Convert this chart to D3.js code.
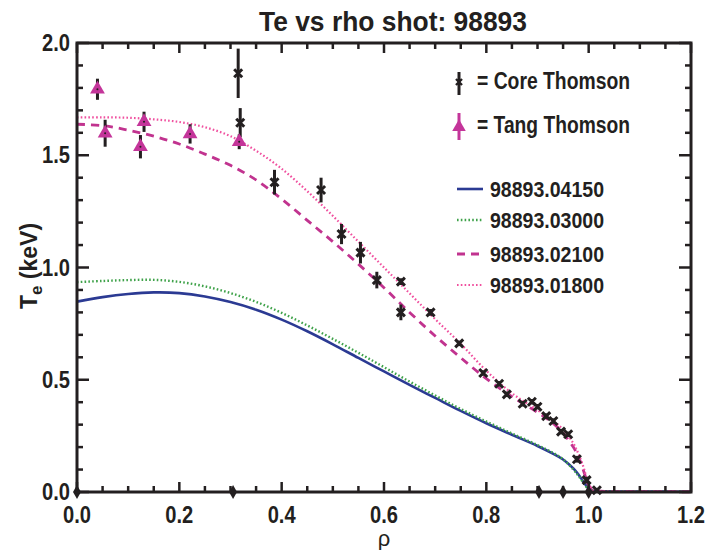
<!DOCTYPE html>
<html>
<head>
<meta charset="utf-8">
<script src="https://cdn.jsdelivr.net/npm/d3@7"></script>
<style>
  html, body { margin: 0; padding: 0; background: #fff; }
  svg { display: block; }
  .bold { font-family: "Liberation Sans", Arial, sans-serif; font-weight: bold; fill: #231f20; }
</style>
</head>
<body>
<svg id="chart" width="710" height="550"></svg>
<script>
// Core Thomson measurements: rho, Te (keV), error (keV)
const coreRho = [0.315, 0.319, 0.386, 0.477, 0.517, 0.554, 0.586, 0.633, 0.633, 0.691, 0.747, 0.794, 0.825, 0.840, 0.871, 0.889, 0.900, 0.917, 0.931, 0.946, 0.960, 0.977, 0.996, 1.016];
const coreTe  = [1.865, 1.645, 1.380, 1.345, 1.149, 1.066, 0.944, 0.937, 0.800, 0.800, 0.662, 0.530, 0.482, 0.435, 0.393, 0.402, 0.380, 0.338, 0.316, 0.269, 0.257, 0.146, 0.053, 0.008];
const coreErr = [0.110, 0.065, 0.055, 0.055, 0.045, 0.048, 0.037, 0.015, 0.035, 0.015, 0.012, 0.012, 0.012, 0.012, 0.012, 0.012, 0.012, 0.012, 0.012, 0.012, 0.012, 0.015, 0.015, 0.010];

// Core Thomson channels with zero signal
const zeroRho = [0.0, 0.305, 0.903, 0.95, 1.0];

// Tangential Thomson measurements
const tangRho = [0.040, 0.055, 0.124, 0.131, 0.221, 0.317];
const tangTe  = [1.794, 1.598, 1.538, 1.649, 1.595, 1.560];
const tangErr = [0.047, 0.060, 0.052, 0.045, 0.043, 0.033];

// Fitted profiles on a common rho grid
const fitRho   = [0, 0.05, 0.1, 0.15, 0.2, 0.25, 0.3, 0.35, 0.4, 0.45, 0.5, 0.55, 0.6, 0.65, 0.7, 0.75, 0.8, 0.85, 0.9, 0.93, 0.95, 0.97, 0.98, 0.99, 1.0, 1.01, 1.03, 1.1, 1.2];
const fit04150 = [0.848, 0.868, 0.882, 0.889, 0.886, 0.871, 0.846, 0.812, 0.768, 0.716, 0.658, 0.597, 0.537, 0.477, 0.419, 0.361, 0.306, 0.255, 0.205, 0.171, 0.145, 0.105, 0.078, 0.045, 0.015, 0.006, 0.003, 0.002, 0.001];
const fit03000 = [0.935, 0.940, 0.944, 0.945, 0.936, 0.916, 0.886, 0.847, 0.798, 0.742, 0.682, 0.620, 0.556, 0.492, 0.430, 0.370, 0.314, 0.261, 0.209, 0.175, 0.146, 0.100, 0.072, 0.040, 0.012, 0.005, 0.003, 0.002, 0.001];
const fit02100 = [1.638, 1.632, 1.612, 1.585, 1.550, 1.505, 1.455, 1.390, 1.305, 1.210, 1.115, 1.015, 0.910, 0.800, 0.695, 0.598, 0.505, 0.425, 0.355, 0.307, 0.262, 0.200, 0.158, 0.095, 0.030, 0.008, 0.003, 0.002, 0.001];
const fit01800 = [1.669, 1.669, 1.667, 1.660, 1.648, 1.625, 1.585, 1.520, 1.440, 1.340, 1.230, 1.115, 1.000, 0.885, 0.770, 0.660, 0.540, 0.440, 0.365, 0.318, 0.278, 0.217, 0.170, 0.110, 0.035, 0.006, 0.003, 0.002, 0.001];

const fitNames = ["98893.04150", "98893.03000", "98893.02100", "98893.01800"];

const xTicks = [0, 0.2, 0.4, 0.6, 0.8, 1.0, 1.2];
const yTicks = [0, 0.5, 1.0, 1.5, 2.0];

const svg = d3.select("#chart");
const L = 77, R = 691, T = 43, B = 492;
const x = d3.scaleLinear().domain([0, 1.2]).range([L, R]);
const y = d3.scaleLinear().domain([0, 2]).range([B, T]);

const ink = "#231f20";
const magenta = "#c4359a";
const styles = [
  { color: "#2b3a93", width: 2.6, dash: null },
  { color: "#3fa24a", width: 2.4, dash: "1.6,2.2" },
  { color: "#c1338f", width: 2.8, dash: "8,6" },
  { color: "#f0509f", width: 2.2, dash: "1.6,2.2" }
];
const fits = [fit04150, fit03000, fit02100, fit01800];

// fitted profiles
const line = d3.line().curve(d3.curveCatmullRom.alpha(0.5));
fits.forEach((f, i) => {
  svg.append("path")
    .attr("d", line(fitRho.map((r, k) => [x(r), y(f[k])])))
    .attr("fill", "none")
    .attr("stroke", styles[i].color)
    .attr("stroke-width", styles[i].width)
    .attr("stroke-dasharray", styles[i].dash);
});

// error bars
function errBars(rho, te, err) {
  svg.append("g").selectAll("line").data(rho).join("line")
    .attr("x1", (d) => x(d)).attr("x2", (d) => x(d))
    .attr("y1", (d, i) => y(te[i] + err[i])).attr("y2", (d, i) => y(te[i] - err[i]))
    .attr("stroke", ink).attr("stroke-width", 3);
}
errBars(coreRho, coreTe, coreErr);
errBars(tangRho, tangTe, tangErr);

// core Thomson crosses
const crossPath = "M-4,-4L4,4M-4,4L4,-4";
svg.append("g").selectAll("path").data(coreRho).join("path")
  .attr("transform", (d, i) => `translate(${x(d)},${y(coreTe[i])})`)
  .attr("d", crossPath)
  .attr("stroke", ink).attr("stroke-width", 3).attr("fill", "none");

// tangential Thomson triangles
const tri = d3.symbol().type(d3.symbolTriangle).size(95);
const tangG = svg.append("g").selectAll("g").data(tangRho).join("g")
  .attr("transform", (d, i) => `translate(${x(d)},${y(tangTe[i])})`);
tangG.append("path").attr("d", tri()).attr("fill", magenta);
tangG.append("circle").attr("r", 1).attr("fill", ink);

// zero-signal channels
const diamond = d3.symbol().type(d3.symbolDiamond).size(55);
svg.append("g").selectAll("path").data(zeroRho).join("path")
  .attr("transform", (d) => `translate(${x(d)},${y(0)})`)
  .attr("d", diamond()).attr("fill", ink);

// frame and ticks (all ticks point inward)
const frame = svg.append("g");
frame.append("rect").attr("x", L).attr("y", T).attr("width", R - L).attr("height", B - T)
  .attr("fill", "none").attr("stroke", ink).attr("stroke-width", 3);

const xMinor = d3.range(0, 1.2001, 0.05);
const yMinor = d3.range(0, 2.0001, 0.1);
const isMajor = (v, step) => Math.abs(v / step - Math.round(v / step)) < 1e-6;

xMinor.forEach((v) => {
  const len = isMajor(v, 0.2) ? 10 : 6;
  frame.append("line").attr("x1", x(v)).attr("x2", x(v)).attr("y1", B).attr("y2", B - len)
    .attr("stroke", ink).attr("stroke-width", 2.5);
  frame.append("line").attr("x1", x(v)).attr("x2", x(v)).attr("y1", T).attr("y2", T + len)
    .attr("stroke", ink).attr("stroke-width", 2.5);
});
yMinor.forEach((v) => {
  const len = isMajor(v, 0.5) ? 12 : 6;
  frame.append("line").attr("x1", L).attr("x2", L + len).attr("y1", y(v)).attr("y2", y(v))
    .attr("stroke", ink).attr("stroke-width", 2.5);
  frame.append("line").attr("x1", R).attr("x2", R - len).attr("y1", y(v)).attr("y2", y(v))
    .attr("stroke", ink).attr("stroke-width", 2.5);
});

// condensed bold text helper
function label(sel, txt, size, width) {
  return sel.append("text").attr("class", "bold").attr("font-size", size)
    .attr("textLength", width).attr("lengthAdjust", "spacingAndGlyphs").text(txt);
}

// tick labels
xTicks.forEach((d) => {
  label(svg, d.toFixed(1), 23, 28).attr("x", x(d) - 14).attr("y", 523);
});
yTicks.forEach((d) => {
  label(svg, d.toFixed(1), 23, 28).attr("x", 42).attr("y", y(d) + 8);
});

// title
label(svg, "Te vs rho shot: 98893", 28, 268).attr("x", 259).attr("y", 31);

// axis labels
svg.append("text").attr("x", 384).attr("y", 546).attr("text-anchor", "middle")
  .attr("font-family", "Liberation Sans, Arial, sans-serif").attr("font-size", 22).attr("fill", ink)
  .text("ρ");
const yl = svg.append("text").attr("class", "bold")
  .attr("transform", "translate(37,266) rotate(-90)").attr("text-anchor", "middle").attr("font-size", 23);
yl.append("tspan").text("T");
yl.append("tspan").attr("font-size", 17).attr("dy", 5).text("e");
yl.append("tspan").attr("dy", -5).text(" (keV)");

// symbol legend
const lg = svg.append("g");
lg.append("line").attr("x1", 459).attr("x2", 459).attr("y1", 72).attr("y2", 95).attr("stroke", ink).attr("stroke-width", 3);
lg.append("path").attr("transform", "translate(459,82)").attr("d", "M-3,-3L3,3M-3,3L3,-3")
  .attr("stroke", ink).attr("stroke-width", 2.4);
label(lg, "= Core Thomson", 23, 153).attr("x", 477).attr("y", 89);

lg.append("line").attr("x1", 459).attr("x2", 459).attr("y1", 113).attr("y2", 140).attr("stroke", magenta).attr("stroke-width", 3);
lg.append("path").attr("transform", "translate(459,127)").attr("d", d3.symbol().type(d3.symbolTriangle).size(80)())
  .attr("fill", magenta);
label(lg, "= Tang Thomson", 23, 153).attr("x", 477).attr("y", 133);

// fit legend
const legY = [189, 220, 254, 285];
fitNames.forEach((n, i) => {
  lg.append("line").attr("x1", 457).attr("x2", 483).attr("y1", legY[i]).attr("y2", legY[i])
    .attr("stroke", styles[i].color).attr("stroke-width", styles[i].width)
    .attr("stroke-dasharray", styles[i].dash);
  label(lg, n, 22, 114).attr("x", 490).attr("y", legY[i] + 8);
});
</script>
</body>
</html>
